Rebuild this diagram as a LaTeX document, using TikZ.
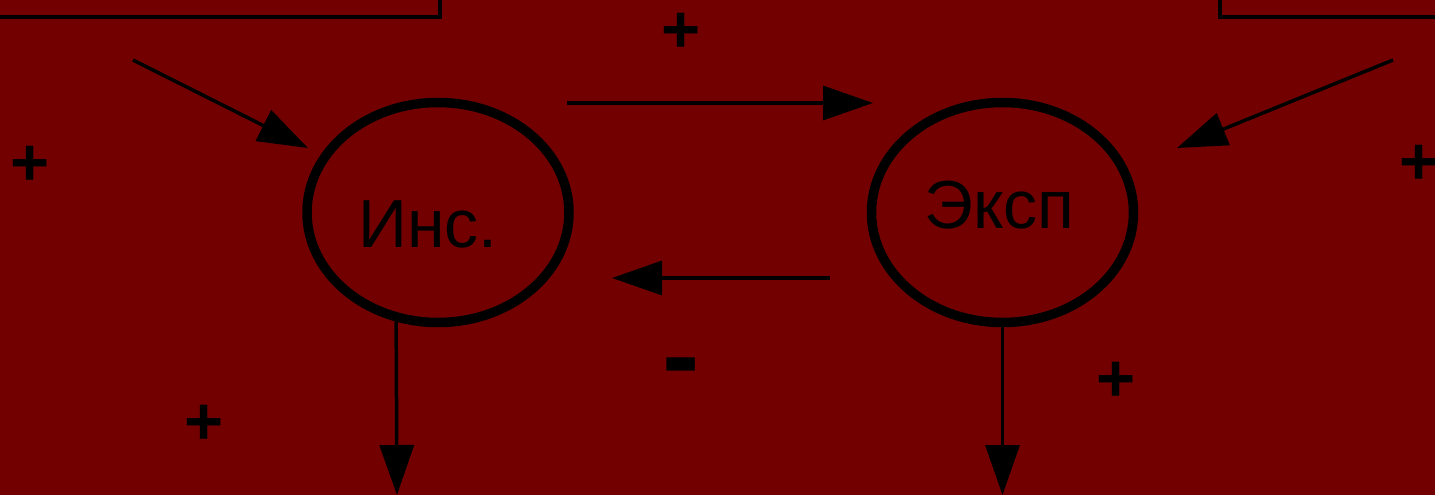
\documentclass[tikz,border=0pt]{standalone}
\usepackage{fontspec}
\setmainfont{Liberation Sans}
\usetikzlibrary{arrows.meta,shapes.geometric}
\definecolor{bgred}{RGB}{114,0,0}
\begin{document}
\begin{tikzpicture}[x=1pt,y=-1pt,
  conn/.style={line width=3.5pt,-{Triangle[length=50pt,width=34pt]}},
  frame/.style={draw=black,line width=4pt},
  loop/.style={ellipse,draw=black,line width=9.5pt,minimum width=262pt,minimum height=220pt,inner sep=0pt},
  lbl/.style={font=\fontsize{68}{82}\selectfont,inner sep=0pt,anchor=base},
  sign/.style={font=\fontsize{67}{80}\selectfont\bfseries,inner sep=0pt,anchor=base}]
  \fill[bgred] (0,0) rectangle (1435,495);
  \useasboundingbox (0,0) rectangle (1435,495);
  \clip (0,0) rectangle (1435,495);

  % boxes reaching past the top edge
  \coordinate (boxLa) at (-20,-20);
  \coordinate (boxLb) at (440,17);
  \coordinate (boxRa) at (1220,17);
  \coordinate (boxRb) at (1460,-20);
  \draw[frame] (boxLa) rectangle (boxLb);
  \draw[frame] (boxRa) rectangle (boxRb);

  % the two states
  \node[loop] (ins) at (438,212.5) {};
  \node[loop] (exp) at (1002.5,212.5) {};
  \node[lbl] (insl) at (428,247) {Инс.};
  \node[lbl] (expl) at (999.5,228) {Эксп};

  % free ends of the connectors
  \coordinate (inL) at (133,60);
  \coordinate (inLtip) at (308,148);
  \coordinate (inR) at (1393,60);
  \coordinate (inRtip) at (1177,148);
  \coordinate (topA) at (567,103);
  \coordinate (topB) at (873,103);
  \coordinate (midA) at (830,278);
  \coordinate (midB) at (612,278);
  \coordinate (outL) at (397,495);
  \coordinate (outR) at (1002.5,495);

  \draw[conn] (inL) -- (inLtip);
  \draw[conn] (inR) -- (inRtip);
  \draw[conn] (topA) -- (topB);
  \draw[conn] (midA) -- (midB);
  \draw[conn] (ins.-111) -- (outL);
  \draw[conn] (exp.south) -- (outR);

  % signs
  \node[sign] (p1) at (681.5,53) {+};
  \node[sign] (p2) at (30.5,185) {+};
  \node[sign] (p3) at (1419.5,184.5) {+};
  \node[sign] (p4) at (204.5,444) {+};
  \node[sign] (p5) at (1116.5,401.5) {+};
  \node[sign,font=\fontsize{112}{130}\selectfont\bfseries] (m1) at (681.5,393.5) {-};
\end{tikzpicture}
\end{document}
